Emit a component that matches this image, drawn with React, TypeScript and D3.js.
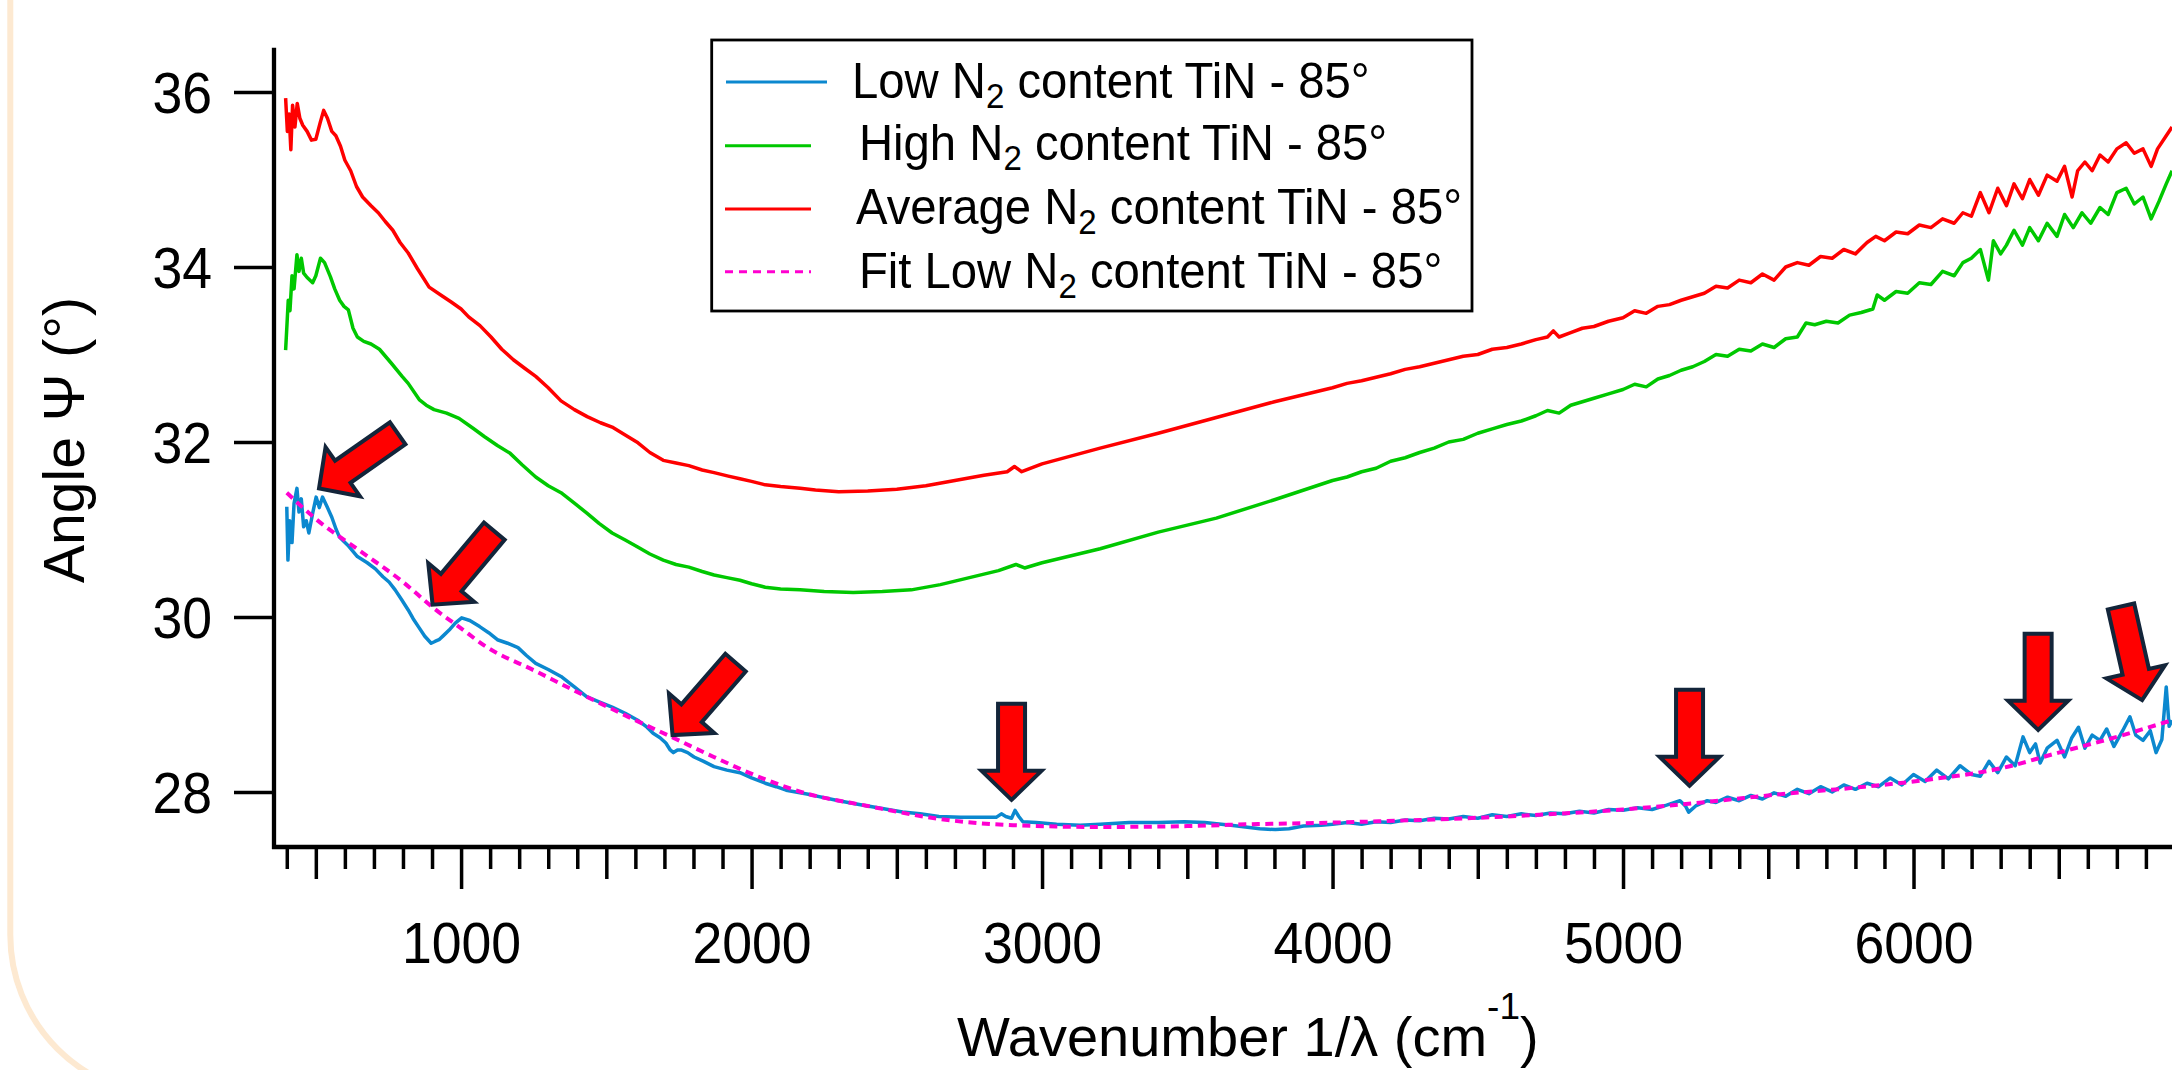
import * as d3 from "d3";
import { useEffect, useRef } from "react";

const FONT = "'Liberation Sans', Arial, Helvetica, sans-serif";

// [wavenumber (cm-1), angle psi (deg)]
const lowN2: [number, number][] = [
  [400, 31.26], [404, 30.65], [410, 31.1], [418, 30.85], [425, 31.3], [435, 31.47], [442, 31.2],
  [450, 31.35], [458, 31.03], [467, 31.1], [476, 30.96], [490, 31.2], [501, 31.37], [512, 31.25],
  [523, 31.37], [540, 31.25], [555, 31.14], [570, 31.0], [582, 30.91], [610, 30.82], [643, 30.69],
  [677, 30.62], [705, 30.55], [731, 30.46], [752, 30.4], [773, 30.31], [795, 30.2], [818, 30.08],
  [835, 29.98], [853, 29.89], [875, 29.78], [897, 29.7], [910, 29.72], [924, 29.74], [940, 29.79],
  [959, 29.85], [980, 29.93], [1002, 29.99], [1030, 29.96], [1064, 29.89], [1095, 29.82],
  [1125, 29.74], [1160, 29.7], [1196, 29.65], [1225, 29.56], [1257, 29.47], [1300, 29.4],
  [1344, 29.32], [1390, 29.2], [1432, 29.09], [1475, 29.03], [1520, 28.97], [1565, 28.9],
  [1608, 28.82], [1640, 28.74], [1661, 28.67], [1685, 28.62], [1705, 28.56], [1720, 28.48],
  [1731, 28.45], [1745, 28.48], [1757, 28.48], [1780, 28.45], [1802, 28.4], [1835, 28.35],
  [1871, 28.29], [1915, 28.25], [1960, 28.22], [2000, 28.16], [2047, 28.1], [2085, 28.06],
  [2119, 28.02], [2200, 27.97], [2300, 27.9], [2380, 27.85], [2450, 27.81], [2520, 27.77],
  [2580, 27.75], [2645, 27.72], [2720, 27.71], [2800, 27.71], [2842, 27.71], [2860, 27.75],
  [2875, 27.72], [2895, 27.7], [2907, 27.79], [2920, 27.72], [2934, 27.66], [2980, 27.65],
  [3050, 27.63], [3131, 27.62], [3200, 27.63], [3300, 27.65], [3400, 27.65], [3490, 27.66],
  [3560, 27.65], [3650, 27.62], [3700, 27.6], [3750, 27.58], [3803, 27.57], [3850, 27.58],
  [3900, 27.61], [3961, 27.62], [4000, 27.63], [4050, 27.65], [4100, 27.63], [4150, 27.66],
  [4200, 27.65], [4250, 27.68], [4300, 27.67], [4350, 27.7], [4400, 27.69], [4450, 27.72],
  [4500, 27.7], [4550, 27.74], [4600, 27.72], [4650, 27.75], [4700, 27.73], [4750, 27.76],
  [4800, 27.75], [4850, 27.78], [4900, 27.76], [4950, 27.8], [5000, 27.79], [5050, 27.82],
  [5100, 27.8], [5150, 27.85], [5196, 27.9], [5215, 27.84], [5226, 27.77], [5250, 27.84],
  [5290, 27.9], [5320, 27.88], [5360, 27.94], [5400, 27.9], [5440, 27.96], [5480, 27.92],
  [5520, 27.99], [5560, 27.95], [5600, 28.03], [5640, 27.98], [5680, 28.06], [5720, 28.0],
  [5760, 28.08], [5800, 28.03], [5840, 28.1], [5880, 28.06], [5920, 28.16], [5960, 28.08],
  [6000, 28.2], [6040, 28.12], [6080, 28.25], [6120, 28.15], [6160, 28.3], [6199, 28.2],
  [6230, 28.18], [6260, 28.35], [6290, 28.22], [6320, 28.4], [6350, 28.3], [6377, 28.63],
  [6400, 28.45], [6420, 28.55], [6436, 28.33], [6460, 28.5], [6494, 28.59], [6520, 28.4],
  [6545, 28.62], [6568, 28.74], [6590, 28.5], [6615, 28.65], [6642, 28.59], [6665, 28.72],
  [6690, 28.52], [6720, 28.7], [6745, 28.86], [6765, 28.65], [6790, 28.59], [6815, 28.7],
  [6835, 28.45], [6855, 28.6], [6870, 29.2], [6880, 28.75], [6890, 28.82],
];

const highN2: [number, number][] = [
  [396, 33.05], [400, 33.3], [405, 33.62], [411, 33.5], [418, 33.9], [425, 33.75], [435, 34.14],
  [442, 33.95], [450, 34.1], [458, 33.93], [470, 33.88], [489, 33.82], [500, 33.9], [516, 34.1],
  [530, 34.05], [550, 33.89], [565, 33.75], [582, 33.62], [597, 33.55], [612, 33.51], [628, 33.3],
  [643, 33.2], [665, 33.15], [690, 33.12], [719, 33.06], [760, 32.9], [797, 32.75], [818, 32.67],
  [857, 32.48], [880, 32.42], [907, 32.37], [950, 32.33], [993, 32.27], [1040, 32.16],
  [1081, 32.06], [1125, 31.96], [1169, 31.87], [1210, 31.74], [1257, 31.6], [1300, 31.5],
  [1344, 31.42], [1390, 31.3], [1432, 31.19], [1475, 31.07], [1520, 30.96], [1565, 30.88],
  [1608, 30.8], [1650, 30.72], [1696, 30.65], [1740, 30.6], [1784, 30.57], [1830, 30.52],
  [1871, 30.48], [1915, 30.45], [1960, 30.42], [2000, 30.38], [2047, 30.34], [2100, 30.32],
  [2167, 30.31], [2250, 30.29], [2350, 30.28], [2450, 30.29], [2550, 30.31], [2650, 30.37],
  [2750, 30.45], [2850, 30.53], [2910, 30.6], [2940, 30.56], [3000, 30.62], [3200, 30.78],
  [3400, 30.97], [3600, 31.13], [3800, 31.34], [4000, 31.56], [4050, 31.6], [4100, 31.66],
  [4150, 31.7], [4200, 31.78], [4250, 31.82], [4300, 31.88], [4350, 31.93], [4400, 32.0],
  [4450, 32.03], [4500, 32.1], [4550, 32.15], [4600, 32.2], [4650, 32.24], [4700, 32.3],
  [4740, 32.36], [4780, 32.33], [4820, 32.42], [4860, 32.46], [4900, 32.5], [4950, 32.55],
  [5000, 32.6], [5040, 32.66], [5080, 32.63], [5120, 32.72], [5160, 32.76], [5200, 32.82],
  [5240, 32.86], [5280, 32.92], [5320, 33.0], [5360, 32.98], [5400, 33.06], [5440, 33.04],
  [5480, 33.12], [5520, 33.08], [5560, 33.18], [5600, 33.2], [5630, 33.36], [5660, 33.34],
  [5700, 33.38], [5740, 33.36], [5780, 33.45], [5820, 33.48], [5860, 33.52], [5875, 33.68],
  [5900, 33.62], [5940, 33.72], [5980, 33.7], [6020, 33.82], [6060, 33.8], [6100, 33.95],
  [6140, 33.9], [6170, 34.05], [6199, 34.1], [6230, 34.2], [6258, 33.85], [6275, 34.3],
  [6300, 34.15], [6320, 34.25], [6346, 34.42], [6375, 34.25], [6400, 34.45], [6430, 34.3],
  [6460, 34.5], [6494, 34.35], [6520, 34.6], [6550, 34.45], [6580, 34.62], [6610, 34.5],
  [6642, 34.68], [6670, 34.6], [6700, 34.85], [6732, 34.9], [6760, 34.72], [6790, 34.8],
  [6818, 34.55], [6845, 34.75], [6870, 34.95], [6890, 35.1],
];

const averageN2: [number, number][] = [
  [396, 35.93], [402, 35.55], [408, 35.75], [414, 35.34], [420, 35.85], [428, 35.6], [436, 35.87],
  [445, 35.7], [455, 35.62], [470, 35.55], [485, 35.45], [500, 35.46], [515, 35.65], [527, 35.79],
  [540, 35.7], [555, 35.55], [569, 35.5], [585, 35.38], [600, 35.22], [620, 35.1], [640, 34.92],
  [661, 34.8], [690, 34.7], [715, 34.62], [739, 34.52], [765, 34.42], [790, 34.28], [818, 34.16],
  [850, 33.98], [890, 33.77], [930, 33.68], [966, 33.6], [1000, 33.52], [1026, 33.43],
  [1065, 33.33], [1103, 33.2], [1140, 33.06], [1180, 32.94], [1220, 32.84], [1257, 32.75],
  [1300, 32.62], [1344, 32.47], [1390, 32.37], [1434, 32.29], [1480, 32.22], [1520, 32.17],
  [1565, 32.08], [1609, 31.99], [1650, 31.88], [1696, 31.79], [1740, 31.76], [1784, 31.73],
  [1830, 31.68], [1871, 31.65], [1920, 31.61], [1960, 31.58], [2000, 31.55], [2047, 31.51],
  [2100, 31.49], [2167, 31.47], [2220, 31.45], [2300, 31.43], [2400, 31.44], [2500, 31.46],
  [2600, 31.5], [2700, 31.56], [2800, 31.62], [2880, 31.66], [2905, 31.72], [2930, 31.66],
  [3000, 31.75], [3200, 31.93], [3400, 32.1], [3600, 32.28], [3800, 32.46], [4000, 32.62],
  [4050, 32.67], [4100, 32.7], [4150, 32.74], [4200, 32.78], [4250, 32.83], [4300, 32.86],
  [4350, 32.9], [4400, 32.94], [4450, 32.98], [4500, 33.0], [4550, 33.06], [4600, 33.08],
  [4650, 33.12], [4700, 33.17], [4740, 33.2], [4760, 33.27], [4780, 33.2], [4820, 33.25],
  [4860, 33.3], [4900, 33.32], [4950, 33.38], [5000, 33.42], [5040, 33.5], [5080, 33.47],
  [5120, 33.55], [5160, 33.57], [5200, 33.62], [5240, 33.66], [5280, 33.7], [5320, 33.78],
  [5360, 33.76], [5400, 33.85], [5440, 33.82], [5480, 33.92], [5520, 33.85], [5560, 34.0],
  [5600, 34.05], [5640, 34.02], [5680, 34.12], [5720, 34.1], [5760, 34.2], [5800, 34.15],
  [5840, 34.28], [5870, 34.35], [5900, 34.3], [5940, 34.4], [5980, 34.38], [6020, 34.48],
  [6060, 34.45], [6100, 34.55], [6140, 34.5], [6170, 34.62], [6199, 34.58], [6230, 34.85],
  [6260, 34.62], [6290, 34.9], [6320, 34.7], [6346, 34.95], [6375, 34.78], [6400, 35.0],
  [6430, 34.82], [6460, 35.05], [6494, 34.98], [6520, 35.15], [6546, 34.8], [6565, 35.1],
  [6590, 35.2], [6615, 35.1], [6642, 35.28], [6670, 35.2], [6700, 35.35], [6732, 35.42],
  [6760, 35.3], [6790, 35.35], [6818, 35.15], [6840, 35.35], [6870, 35.5], [6890, 35.6],
];

const fitLowN2: [number, number][] = [
  [400, 31.42], [500, 31.12], [650, 30.76], [800, 30.4], [906, 30.1], [1000, 29.87],
  [1082, 29.67], [1257, 29.38], [1432, 29.09], [1600, 28.82], [1730, 28.62], [1870, 28.4],
  [2050, 28.14], [2170, 28.0], [2400, 27.84], [2650, 27.69], [2900, 27.62], [3200, 27.6],
  [3500, 27.61], [3700, 27.63], [4000, 27.65], [4300, 27.68], [4600, 27.72], [5000, 27.8],
  [5300, 27.89], [5530, 27.97], [5800, 28.05], [6050, 28.14], [6300, 28.27], [6500, 28.45],
  [6700, 28.63], [6890, 28.82],
];

// arrow tips: [wavenumber, psi, rotation in deg (0 = pointing down)]
const arrowTips: [number, number, number][] = [
  [511, 31.47, 55], [902, 30.14, 40], [1728, 28.65, 41], [2895, 27.91, 0],
  [5229, 28.07, 0], [6429, 28.71, 0], [6787, 29.05, -12.7],
];

const xTicks = d3.range(400, 7000, 100);
const yTicks = [28, 30, 32, 34, 36];

const legendNames = ["Low", "High", "Average", "Fit Low"];
const seriesColors = ["#0b88cf", "#00c800", "#ff0000", "#ff00d0"];

const x = d3.scaleLinear().domain([356, 7000]).range([274, 2204]);
const y = d3.scaleLinear().domain([27.371, 36.503]).range([847, 48]);

const line = d3.line<[number, number]>().x(d => x(d[0])).y(d => y(d[1]));
const fitLine = d3.line<[number, number]>().x(d => x(d[0])).y(d => y(d[1])).curve(d3.curveMonotoneX);

// arrow pointing down with its tip at 0,0
const arrowPath = "M0,0 L-30,-29 L-13.5,-29 L-13.5,-96 L13.5,-96 L13.5,-29 L30,-29 Z";

export default function App() {
  const ref = useRef<SVGSVGElement>(null);

  useEffect(() => {
    const svg = d3.select(ref.current);

    const gx = svg.select<SVGGElement>("g.x-axis");
    gx.selectAll("*").remove();
    gx.attr("transform", "translate(0,847)")
      .call(
        d3.axisBottom(x)
          .tickValues(xTicks)
          .tickSize(22)
          .tickSizeOuter(0)
          .tickFormat(d => (+d % 1000 === 0 ? String(d) : ""))
      )
      .attr("font-size", 57)
      .attr("font-family", FONT);
    gx.select(".domain").attr("d", "M272,0H2204").attr("stroke-width", 4.3).attr("stroke", "#000");
    gx.selectAll<SVGLineElement, number>(".tick line")
      .attr("y2", d => (d % 1000 === 0 ? 42 : d % 500 === 0 ? 32 : 22))
      .attr("stroke-width", 3.5)
      .attr("stroke", "#000");
    gx.selectAll(".tick text")
      .attr("y", 0)
      .attr("dy", 0)
      .attr("fill", "#000")
      .attr("transform", "translate(0,115.7) scale(0.94,1)");

    const gy = svg.select<SVGGElement>("g.y-axis");
    gy.selectAll("*").remove();
    gy.attr("transform", "translate(274,0)")
      .call(d3.axisLeft(y).tickValues(yTicks).tickSize(40).tickSizeOuter(0))
      .attr("font-size", 57)
      .attr("font-family", FONT);
    gy.select(".domain").attr("d", "M0,849V47.7").attr("stroke-width", 4.3).attr("stroke", "#000");
    gy.selectAll(".tick line").attr("stroke-width", 3.5).attr("stroke", "#000");
    gy.selectAll(".tick text")
      .attr("x", 0)
      .attr("dy", 0)
      .attr("fill", "#000")
      .attr("transform", "translate(-62,20.4) scale(0.94,1)");
  }, []);

  const legendRows = [82, 145.7, 209, 271.7];
  const legendText = [97.7, 160, 224, 287.7];
  const legendX = [852, 859, 856, 859];

  return (
    <svg
      ref={ref}
      width={2172}
      height={1070}
      style={{ position: "absolute", left: 0, top: 0, overflow: "hidden" }}
      fontFamily={FONT}
    >
      <rect width={2172} height={1070} fill="#fff" />
      <path d="M10.3,-10 V935 A161,161 0 0 0 171.3,1096" fill="none" stroke="#fde9d1" strokeWidth={6} />

      <path d={line(averageN2) ?? ""} fill="none" stroke={seriesColors[2]} strokeWidth={3.5} strokeLinejoin="round" />
      <path d={line(highN2) ?? ""} fill="none" stroke={seriesColors[1]} strokeWidth={3.5} strokeLinejoin="round" />
      <path d={line(lowN2) ?? ""} fill="none" stroke={seriesColors[0]} strokeWidth={3.5} strokeLinejoin="round" />
      <path d={fitLine(fitLowN2) ?? ""} fill="none" stroke={seriesColors[3]} strokeWidth={4} strokeDasharray="8,5.5" />

      {arrowTips.map(([wn, psi, rot], i) => (
        <path
          key={i}
          d={arrowPath}
          transform={`translate(${x(wn)},${y(psi)}) rotate(${rot})`}
          fill="#ff0000"
          stroke="#13253a"
          strokeWidth={4}
        />
      ))}

      <g className="x-axis" />
      <g className="y-axis" />

      <text transform="translate(84,440) rotate(-90)" textAnchor="middle" fontSize={57} fill="#000">
        Angle Ψ (°)
      </text>
      <text x={957} y={1056} fontSize={56} fill="#000">
        Wavenumber 1/λ (cm
        <tspan fontSize={37} dy={-37}>-1</tspan>
        <tspan dy={37}>)</tspan>
      </text>

      <rect x={711.7} y={40} width={760.3} height={271} fill="#fff" stroke="#000" strokeWidth={2.8} />
      {legendNames.map((name, i) => (
        <g key={name}>
          <line
            x1={i === 0 ? 726 : 725}
            x2={i === 0 ? 827 : 811}
            y1={legendRows[i]}
            y2={legendRows[i]}
            stroke={seriesColors[i]}
            strokeWidth={3}
            strokeDasharray={i === 3 ? "8,6" : undefined}
          />
          <text transform={`translate(${legendX[i]},${legendText[i]}) scale(0.945,1)`} fontSize={50} fill="#000">
            {name + " N"}
            <tspan fontSize={35} dy={10}>2</tspan>
            <tspan dy={-10}>{" content TiN - 85°"}</tspan>
          </text>
        </g>
      ))}
    </svg>
  );
}
